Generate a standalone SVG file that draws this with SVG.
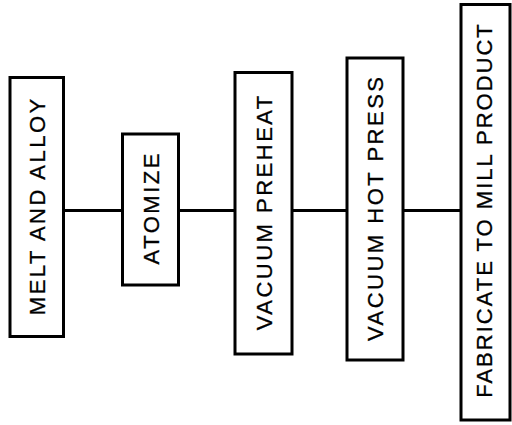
<svg xmlns="http://www.w3.org/2000/svg" width="512" height="425" viewBox="0 0 512 425">
<style>
.box{fill:#fff;stroke:#000;stroke-width:3}
.lbl{font-family:"Liberation Sans",Arial,sans-serif;font-size:22px;letter-spacing:2.5px;text-anchor:middle;fill:#000;stroke:#000;stroke-width:0.3}
.conn{stroke:#000;stroke-width:3;fill:none}
</style>
<rect width="512" height="425" fill="#fff"/>
<g id="connectors">
<line class="conn" x1="63" y1="210.5" x2="122.5" y2="210.5"/>
<line class="conn" x1="178.5" y1="210.5" x2="235" y2="210.5"/>
<line class="conn" x1="292" y1="210.5" x2="347" y2="210.5"/>
<line class="conn" x1="403" y1="210.5" x2="461" y2="210.5"/>
</g>
<g id="melt">
<rect class="box" x="10" y="77.5" width="53.5" height="259"/>
<text class="lbl" transform="translate(37,207) rotate(-90)" x="1.25" y="8">MELT AND ALLOY</text>
</g>
<g id="atomize">
<rect class="box" x="122.5" y="134" width="56" height="151"/>
<text class="lbl" transform="translate(150.5,209) rotate(-90)" x="1.25" y="8">ATOMIZE</text>
</g>
<g id="preheat">
<rect class="box" x="235" y="72.5" width="57" height="281.5"/>
<text class="lbl" transform="translate(263.5,213) rotate(-90)" x="1.25" y="8">VACUUM PREHEAT</text>
</g>
<g id="hotpress">
<rect class="box" x="347" y="58" width="56" height="302"/>
<text class="lbl" transform="translate(375,209) rotate(-90)" x="1.25" y="8">VACUUM HOT PRESS</text>
</g>
<g id="fabricate">
<rect class="box" x="461" y="4.5" width="49" height="415.5"/>
<text class="lbl" transform="translate(484,211) rotate(-90)" x="1" y="8" style="letter-spacing:2px">FABRICATE TO MILL PRODUCT</text>
</g>
</svg>
